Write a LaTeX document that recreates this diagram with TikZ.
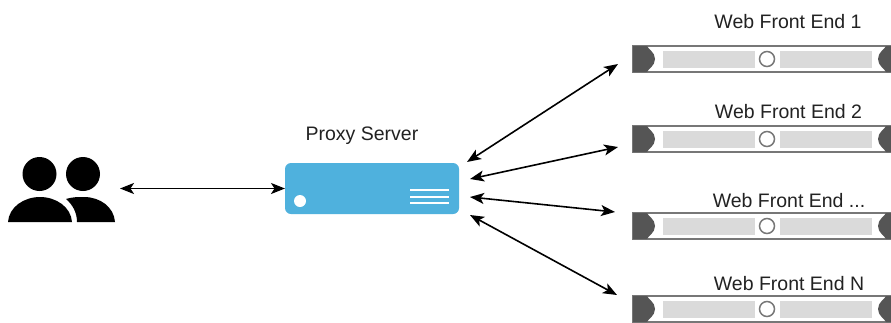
\documentclass[tikz,border=0pt]{standalone}
\usepackage{fontspec}
\setmainfont{Liberation Sans}
\usetikzlibrary{arrows.meta}
\definecolor{rackdark}{HTML}{555555}
\definecolor{rackmid}{HTML}{DADADA}
\definecolor{rackedge}{HTML}{777777}
\definecolor{proxyblue}{HTML}{4FB1DD}
\definecolor{labeltext}{HTML}{222222}
\tikzset{
  x=1pt,y=-1pt,
  lbl/.style={font=\fontsize{19.5}{22}\selectfont,text=labeltext,inner sep=0pt,anchor=center},
  link/.style={{Stealth[length=14pt,width=11pt,inset=3.5pt]}-{Stealth[length=14pt,width=11pt,inset=3.5pt]},line width=1.6pt,black},
  rackframe/.style={minimum width=258pt,minimum height=26pt,inner sep=0pt,outer sep=0pt,anchor=north west,fill=white,draw=rackedge,line width=1.3pt},
  proxybox/.style={minimum width=174pt,minimum height=51pt,inner sep=0pt,outer sep=0pt,rounded corners=6pt,fill=proxyblue,anchor=north west}
}
\newcommand{\rackunit}[2]{%
  \node[rackframe] (#1) at (633,#2) {};
  \begin{scope}[shift={(0,#2)}]
    \fill[rackmid] (663,4.5) rectangle (872,22);
    \fill[white] (755,4) rectangle (780,23);
    \draw[rackedge,line width=1.5pt,fill=white] (767,13) circle (7.5);
    \fill[rackdark] (633,0) -- (647,0) .. controls (648,3) and (655,6) .. (655,13) .. controls (655,20) and (648,23) .. (647,26) -- (633,26) -- cycle;
    \fill[rackdark] (891,0) -- (886,0) .. controls (885,3) and (878,6) .. (878,13) .. controls (878,20) and (885,23) .. (886,26) -- (891,26) -- cycle;
  \end{scope}}
\begin{document}
\begin{tikzpicture}
\useasboundingbox (0,0) rectangle (891,322);
\clip (0,0) rectangle (891,322);
\fill[white] (0,0) rectangle (891,322);
% people
\fill[black] (39.5,174) circle (17);
\fill[black] (83,174) circle (17);
\fill[black] (8,222) .. controls (9,207) and (24,197) .. (40,197) .. controls (56,197) and (71,207) .. (72,222) -- cycle;
\fill[black] (66,199) .. controls (72,197) and (78,197) .. (84,197) .. controls (100,197) and (114,207) .. (115,222) -- (77,222) .. controls (77,213) and (73,205) .. (66,199) -- cycle;
\coordinate (people) at (120,188.5);
% proxy
\node[proxybox] (proxy) at (285,163) {};
\fill[white] (300,201) circle (6);
\foreach \yy in {190,197,203} \fill[white] (410,\yy-1.4) rectangle (449,\yy+1.4);
\node[lbl] (proxylabel) at (362,136) {Proxy Server};
% racks
\rackunit{web1}{46}
\rackunit{web2}{126}
\rackunit{web3}{213}
\rackunit{web4}{296}
\node[lbl] (l1) at (788,22) {Web Front End 1};
\node[lbl] (l2) at (788.5,112) {Web Front End 2};
\node[lbl] (l3) at (789,201) {Web Front End ...};
\node[lbl] (l4) at (789,284) {Web Front End N};
% connector ends
\coordinate (pa) at (467,162);
\coordinate (pb) at (470,179);
\coordinate (pc) at (470,197);
\coordinate (pd) at (470,215);
\coordinate (wa) at (618,64);
\coordinate (wb) at (618,147);
\coordinate (wc) at (615,212);
\coordinate (wd) at (617,295);
\draw[link] (people) -- (proxy.west);
\draw[link] (pa) -- (wa);
\draw[link] (pb) -- (wb);
\draw[link] (pc) -- (wc);
\draw[link] (pd) -- (wd);
\end{tikzpicture}
\end{document}
